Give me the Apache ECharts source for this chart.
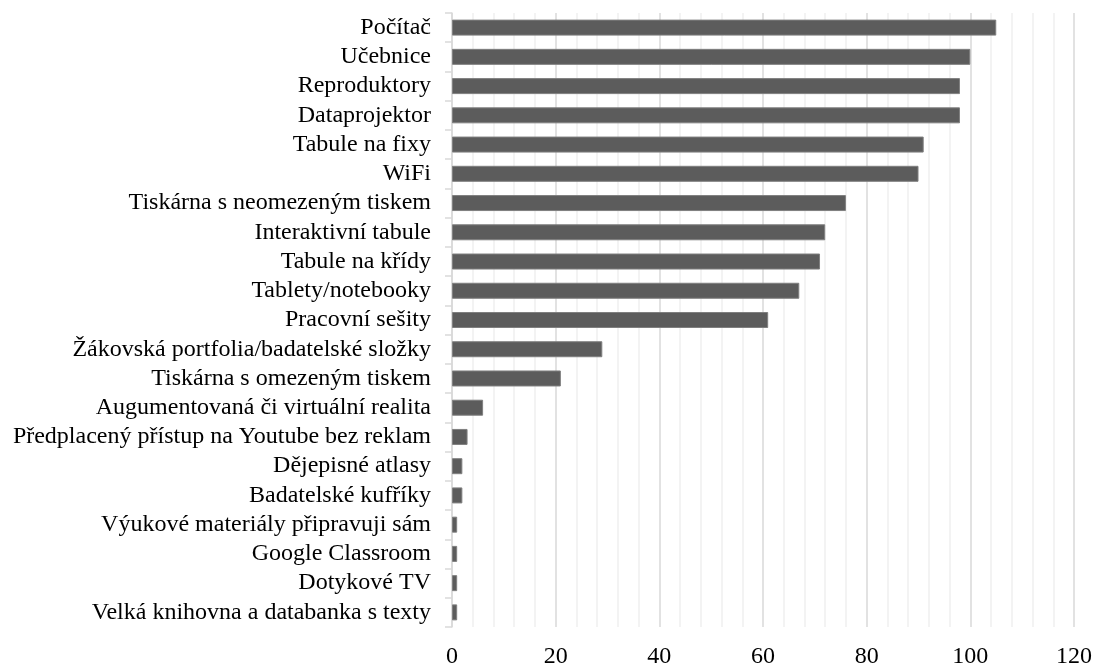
<!DOCTYPE html>
<html>
<head>
<meta charset="utf-8">
<script src="https://cdn.jsdelivr.net/npm/echarts@6/dist/echarts.min.js"></script>
<style>
  html, body { margin: 0; padding: 0; background: #ffffff; }
  #chart { width: 1095px; height: 669px; }
</style>
</head>
<body>
<div id="chart"></div>
<script>
// Vybavení – počty odpovědí
const categories = [
  'Počítač',
  'Učebnice',
  'Reproduktory',
  'Dataprojektor',
  'Tabule na fixy',
  'WiFi',
  'Tiskárna s neomezeným tiskem',
  'Interaktivní tabule',
  'Tabule na křídy',
  'Tablety/notebooky',
  'Pracovní sešity',
  'Žákovská portfolia/badatelské složky',
  'Tiskárna s omezeným tiskem',
  'Augumentovaná či virtuální realita',
  'Předplacený přístup na Youtube bez reklam',
  'Dějepisné atlasy',
  'Badatelské kufříky',
  'Výukové materiály připravuji sám',
  'Google Classroom',
  'Dotykové TV',
  'Velká knihovna a databanka s texty'
];

const counts = [105, 100, 98, 98, 91, 90, 76, 72, 71, 67, 61, 29, 21, 6, 3, 2, 2, 1, 1, 1, 1];

const axisMin = 0;
const axisMax = 120;
const axisStep = 20;

const fontFamily = '"Liberation Serif", "Times New Roman", serif';

const chart = echarts.init(document.getElementById('chart'), null, { renderer: 'canvas' });

chart.setOption({
  animation: false,
  backgroundColor: '#ffffff',
  grid: { left: 452, right: 20, top: 13, bottom: 37, containLabel: false },
  xAxis: {
    type: 'value',
    min: axisMin,
    max: axisMax,
    interval: axisStep,
    axisLine: { show: false },
    axisTick: { show: false },
    axisLabel: {
      color: '#000000',
      fontFamily: fontFamily,
      fontSize: 24,
      margin: 18
    },
    splitLine: { show: true, lineStyle: { color: '#d9d9d9', width: 1.5 } },
    minorTick: { show: false, splitNumber: 5 },
    minorSplitLine: { show: true, lineStyle: { color: '#f0f0f0', width: 1.5 } }
  },
  yAxis: {
    type: 'category',
    data: categories,
    inverse: true,
    axisLine: { show: true, lineStyle: { color: '#d9d9d9', width: 1.5 } },
    axisTick: { show: true, interval: 0, length: 7, lineStyle: { color: '#d9d9d9', width: 1.5 } },
    axisLabel: {
      interval: 0,
      color: '#000000',
      fontFamily: fontFamily,
      fontSize: 24,
      margin: 21
    },
    splitLine: { show: false }
  },
  series: [{
    type: 'bar',
    data: counts,
    barWidth: 16,
    itemStyle: { color: '#5c5c5c', borderColor: '#7f7f7f', borderWidth: 1 }
  }]
});
</script>
</body>
</html>
